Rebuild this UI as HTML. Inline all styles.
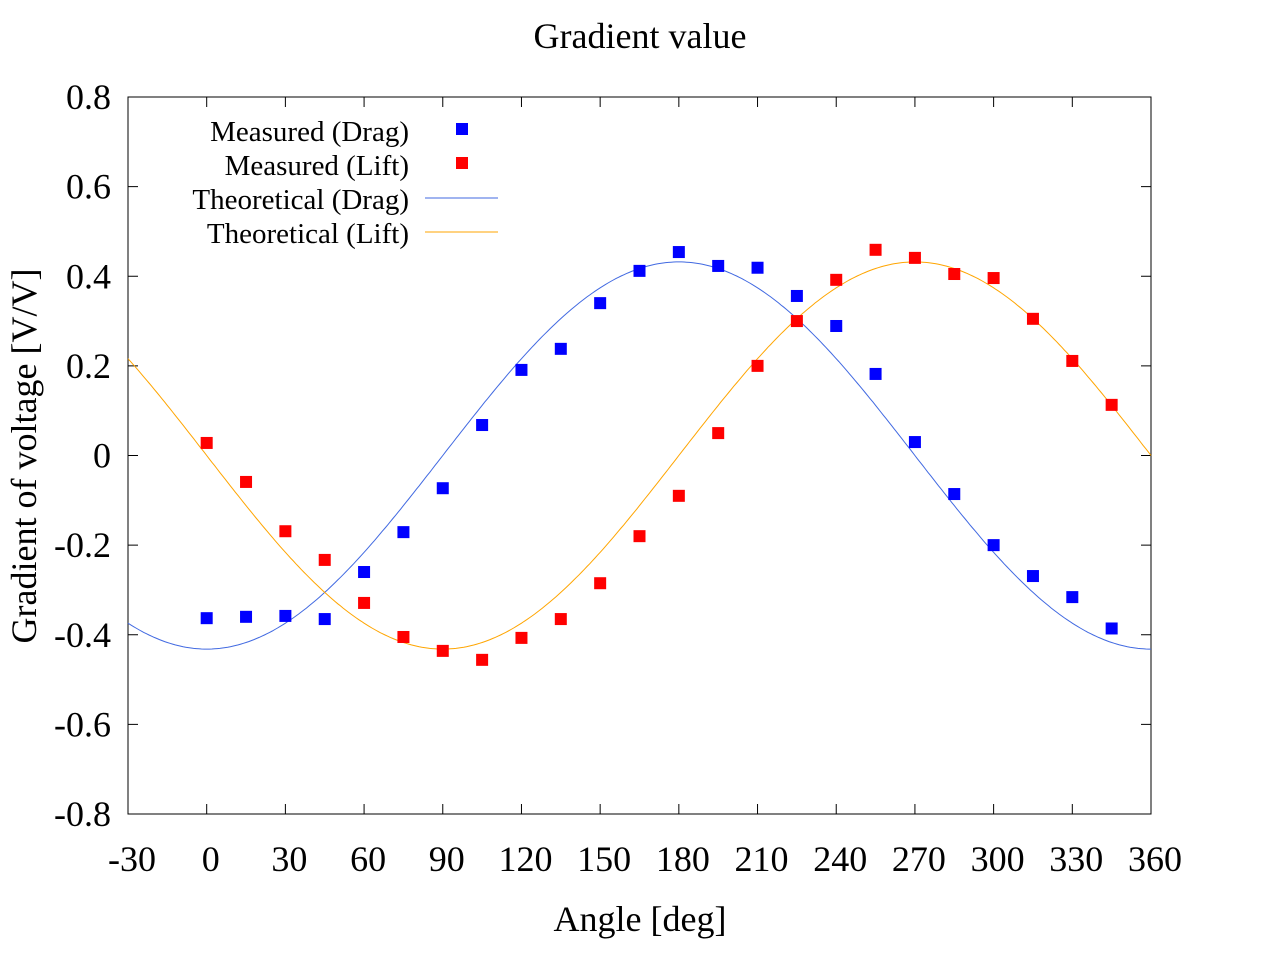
<!DOCTYPE html>
<html><head><meta charset="utf-8"><style>
body{margin:0;background:#fff}
text{font-family:"Liberation Serif",serif;fill:#000}
</style></head><body>
<svg id="chart" width="1280" height="960" xmlns="http://www.w3.org/2000/svg">
<text x="640" y="48" font-size="36" text-anchor="middle">Gradient value</text>
<rect x="128" y="97" width="1023" height="717" fill="none" stroke="#000" stroke-width="1"/>
<g id="axes"></g>
<g id="curves"></g>
<g id="points"></g>
<text x="640" y="931" font-size="36" text-anchor="middle">Angle [deg]</text>
<text transform="translate(36,456) rotate(-90)" font-size="36" text-anchor="middle">Gradient of voltage [V/V]</text>
<g font-size="29">
<text x="409" y="141" text-anchor="end">Measured (Drag)</text>
<rect x="456" y="123" width="12" height="12" fill="#0000ff"/>
<text x="409" y="175" text-anchor="end">Measured (Lift)</text>
<rect x="456" y="157" width="12" height="12" fill="#ff0000"/>
<text x="409" y="209" text-anchor="end">Theoretical (Drag)</text>
<line x1="425" y1="198" x2="498" y2="198" stroke="#4169e1" stroke-width="1"/>
<text x="409" y="243" text-anchor="end">Theoretical (Lift)</text>
<line x1="425" y1="232" x2="498" y2="232" stroke="#ffa500" stroke-width="1"/>
</g>
</svg>
<script>
const xTicks=[-30,0,30,60,90,120,150,180,210,240,270,300,330,360];
const yTicks=[-0.8,-0.6,-0.4,-0.2,0,0.2,0.4,0.6,0.8];
const angles=[0,15,30,45,60,75,90,105,120,135,150,165,180,195,210,225,240,255,270,285,300,315,330,345];
const dragValues=[-0.363,-0.36,-0.358,-0.365,-0.26,-0.171,-0.073,0.068,0.191,0.238,0.34,0.412,0.454,0.423,0.419,0.356,0.289,0.182,0.03,-0.086,-0.2,-0.269,-0.316,-0.386];
const liftValues=[0.028,-0.059,-0.169,-0.233,-0.329,-0.405,-0.436,-0.456,-0.407,-0.365,-0.285,-0.18,-0.09,0.05,0.2,0.3,0.392,0.459,0.441,0.405,0.396,0.305,0.211,0.113];
const amplitude=[0.432];
const NS="http://www.w3.org/2000/svg";
const X=v=>128+(v+30)*(1023/390);
const Y=v=>455.5-v*(717/1.6);
function mk(t,a,p){const e=document.createElementNS(NS,t);for(const k in a)e.setAttribute(k,a[k]);p.appendChild(e);return e;}
const ax=document.getElementById('axes');
xTicks.forEach(t=>{
 mk('line',{x1:X(t),x2:X(t),y1:814,y2:804,stroke:'#000'},ax);
 mk('line',{x1:X(t),x2:X(t),y1:97,y2:107,stroke:'#000'},ax);
 const e=mk('text',{x:X(t)+4,y:871,'font-size':36,'text-anchor':'middle'},ax);e.textContent=t;
 
 
});
yTicks.forEach(t=>{
 mk('line',{x1:128,x2:138,y1:Y(t),y2:Y(t),stroke:'#000'},ax);
 mk('line',{x1:1151,x2:1141,y1:Y(t),y2:Y(t),stroke:'#000'},ax);
 const e=mk('text',{x:111,y:Y(t)+12,'font-size':36,'text-anchor':'end'},ax);e.textContent=(t===0?'0':t.toFixed(1));
 
 
});
const cv=document.getElementById('curves');
let dd='',dl='';
for(let a=-30;a<=360;a+=1){const r=a*Math.PI/180;
 dd+=(a===-30?'M':'L')+X(a).toFixed(1)+','+Y(-amplitude[0]*Math.cos(r)).toFixed(1);
 dl+=(a===-30?'M':'L')+X(a).toFixed(1)+','+Y(-amplitude[0]*Math.sin(r)).toFixed(1);}
const p1=mk('path',{d:dd,fill:'none',stroke:'#4169e1','stroke-width':1},cv);


const p2=mk('path',{d:dl,fill:'none',stroke:'#ffa500','stroke-width':1},cv);


const pg=document.getElementById('points');
angles.forEach((a,i)=>{
 const r1=mk('rect',{x:X(a)-6,y:Y(dragValues[i])-6,width:12,height:12,fill:'#0000ff'},pg);
 
 
 const r2=mk('rect',{x:X(a)-6,y:Y(liftValues[i])-6,width:12,height:12,fill:'#ff0000'},pg);
 
 
});
</script>
</body></html>
